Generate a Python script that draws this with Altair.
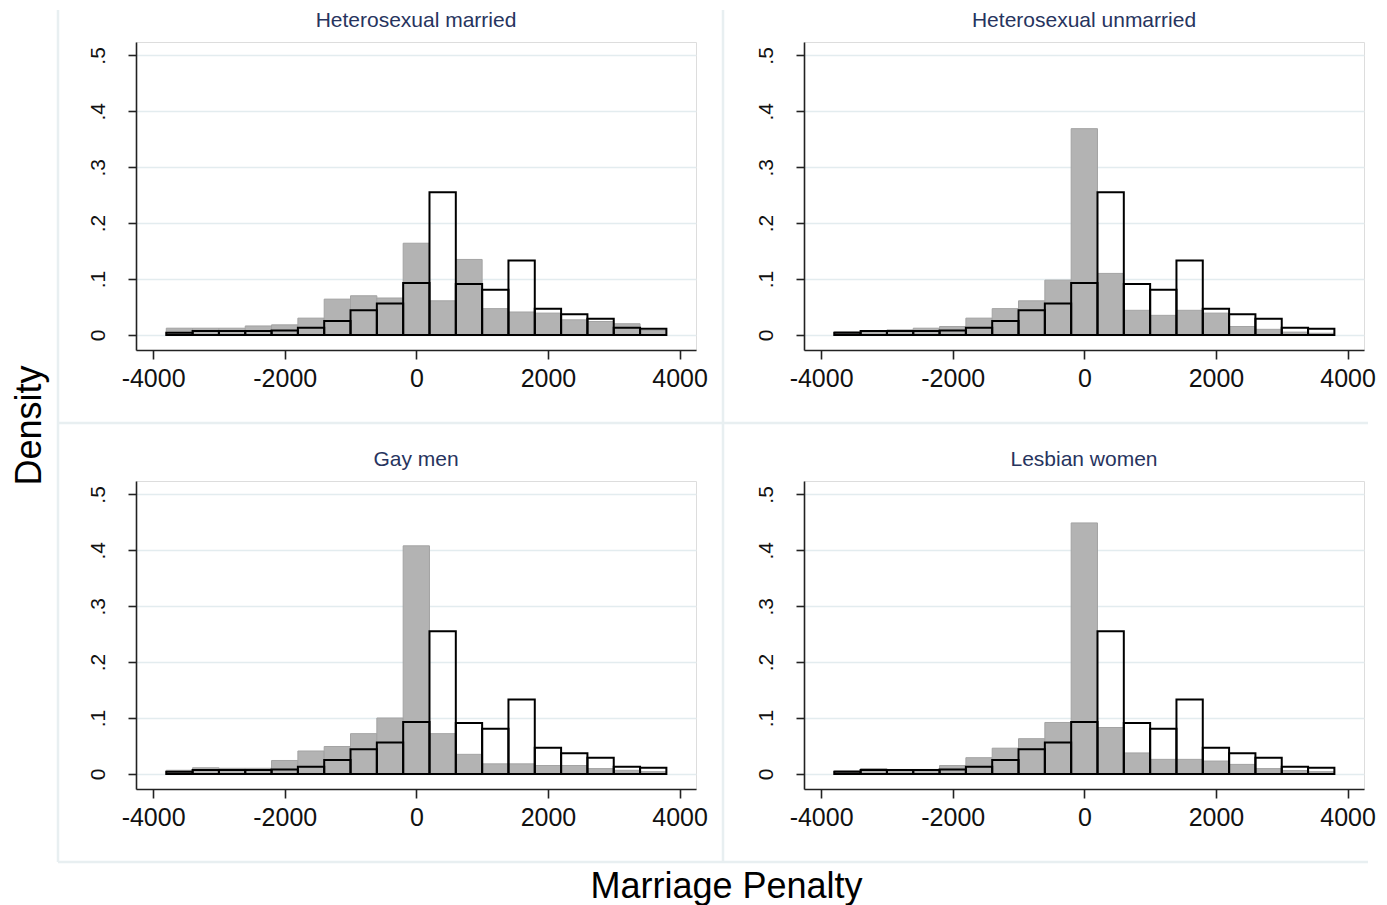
import altair as alt
import pandas as pd

panel_names = ["Heterosexual married", "Heterosexual unmarried", "Gay men", "Lesbian women"]

# histogram bin edges (width 400)
bin_edges = [-3800, -3400, -3000, -2600, -2200, -1800, -1400, -1000, -600, -200,
             200, 600, 1000, 1400, 1800, 2200, 2600, 3000, 3400, 3800]

# outlined (hollow) reference distribution, same in every panel
outline_density = [0.004, 0.007, 0.007, 0.007, 0.008, 0.013, 0.025, 0.044, 0.056, 0.093,
                   0.255, 0.091, 0.081, 0.133, 0.047, 0.037, 0.029, 0.013, 0.011]

# gray filled distributions per panel
gray_het_married = [0.012, 0.012, 0.012, 0.016, 0.018, 0.030, 0.064, 0.070, 0.066, 0.164,
                    0.061, 0.135, 0.047, 0.041, 0.039, 0.027, 0.024, 0.020, 0.008]
gray_het_unmarried = [0.006, 0.006, 0.009, 0.012, 0.015, 0.030, 0.047, 0.061, 0.098, 0.369,
                      0.110, 0.044, 0.035, 0.044, 0.039, 0.015, 0.010, 0.005, 0.003]
gray_gay_men = [0.0065, 0.011, 0.010, 0.010, 0.024, 0.041, 0.049, 0.072, 0.100, 0.408,
                0.072, 0.035, 0.018, 0.018, 0.015, 0.015, 0.0095, 0.0065, 0.004]
gray_lesbian = [0.006, 0.0095, 0.008, 0.008, 0.015, 0.029, 0.046, 0.063, 0.092, 0.449,
                0.083, 0.0375, 0.026, 0.026, 0.023, 0.017, 0.0095, 0.006, 0.004]

x_ticks = [-4000, -2000, 0, 2000, 4000]
y_ticks = [0, 0.1, 0.2, 0.3, 0.4, 0.5]

FONT = "Liberation Sans"
GRID = "#e3ecef"
SEP = "#e8eff1"
W, H = 560, 308


def panel(name, gray, ytitle=None, xtitle=None, separators=False):
    df_g = pd.DataFrame({"x0": bin_edges[:-1], "x1": bin_edges[1:], "d": gray})
    df_o = pd.DataFrame({"x0": bin_edges[:-1], "x1": bin_edges[1:], "d": outline_density})
    one = pd.DataFrame({"k": [0]})

    xaxis_kw = dict(
        values=x_ticks, grid=False,
        labelExpr="datum.value < 0 ? '-' + format(-datum.value, 'd') : format(datum.value, 'd')",
        labelFontSize=25, labelFont=FONT, labelColor="#111111", labelPadding=7,
        domainColor="#222222", domainWidth=1.6, tickColor="#222222", tickWidth=1.6, tickSize=9,
        labelFlush=False,
    )
    if xtitle:
        xaxis_kw.update(title=xtitle, titleFontSize=36, titleFont=FONT, titleFontWeight="normal",
                        titleColor="#000000", titleX=590, titleY=97, titleAlign="center",
                        titleBaseline="middle")
    else:
        xaxis_kw.update(title=None)

    yaxis_kw = dict(
        values=y_ticks, grid=True, gridColor=GRID, gridWidth=1.3,
        labelExpr="datum.value == 0 ? '0' : '.' + format(datum.value * 10, 'd')",
        labelAngle=270, labelAlign="center", labelBaseline="bottom",
        labelFontSize=21, labelFont=FONT, labelColor="#111111", labelPadding=20,
        domainColor="#222222", domainWidth=1.6, tickColor="#222222", tickWidth=1.6, tickSize=8,
        labelFlush=False,
    )
    if ytitle:
        yaxis_kw.update(title=ytitle, titleFontSize=36, titleFont=FONT, titleFontWeight="normal",
                        titleColor="#000000", titleAngle=270, titleX=-107, titleY=383,
                        titleAlign="center", titleBaseline="middle")
    else:
        yaxis_kw.update(title=None)

    x = alt.X("x0:Q", scale=alt.Scale(domain=[-4260, 4250], nice=False, zero=False),
              axis=alt.Axis(**xaxis_kw))
    y = alt.Y("d:Q", scale=alt.Scale(domain=[-0.027, 0.524], nice=False, zero=False),
              axis=alt.Axis(**yaxis_kw))

    gray_layer = alt.Chart(df_g).mark_rect(fill="#b3b3b3", stroke="#a3a3a3", strokeWidth=1).encode(
        x=x, x2="x1:Q", y=y, y2=alt.datum(0))
    outline_layer = alt.Chart(df_o).mark_rect(fillOpacity=0, stroke="#000000", strokeWidth=2).encode(
        x=x, x2="x1:Q", y=y, y2=alt.datum(0))
    title_layer = alt.Chart(one).mark_text(
        fontSize=21, font=FONT, color="#27345e", align="center", baseline="middle").encode(
        x=alt.value(W / 2), y=alt.value(-21), text=alt.value(name))

    layers = [gray_layer, outline_layer, title_layer]
    if separators:
        base = alt.Chart(one).mark_rule(color=SEP, strokeWidth=2.5)
        layers += [
            # invisible anchor fixing the chart's top-left corner
            alt.Chart(one).mark_rule(color="white", opacity=0, strokeWidth=1).encode(
                x=alt.value(-127), y=alt.value(-33), y2=alt.value(0)),
            base.encode(x=alt.value(587), y=alt.value(-32), y2=alt.value(820)),
            base.encode(x=alt.value(-78), y=alt.value(-32), y2=alt.value(820)),
            base.encode(x=alt.value(-78), x2=alt.value(1232), y=alt.value(381)),
            base.encode(x=alt.value(-78), x2=alt.value(1232), y=alt.value(820)),
        ]

    return alt.layer(*layers).properties(width=W, height=H)


p1 = panel(panel_names[0], gray_het_married, ytitle="Density", separators=True)
p2 = panel(panel_names[1], gray_het_unmarried)
p3 = panel(panel_names[2], gray_gay_men, xtitle="Marriage Penalty")
p4 = panel(panel_names[3], gray_lesbian)

chart = alt.concat(p1, p2, p3, p4, columns=2, spacing={"row": 131, "column": 108},
                   bounds="flush").properties(padding=0).configure_view(
    stroke=None).configure(background="white", font=FONT)

chart.save("out.html", embed_options={"renderer": "svg", "actions": False})
